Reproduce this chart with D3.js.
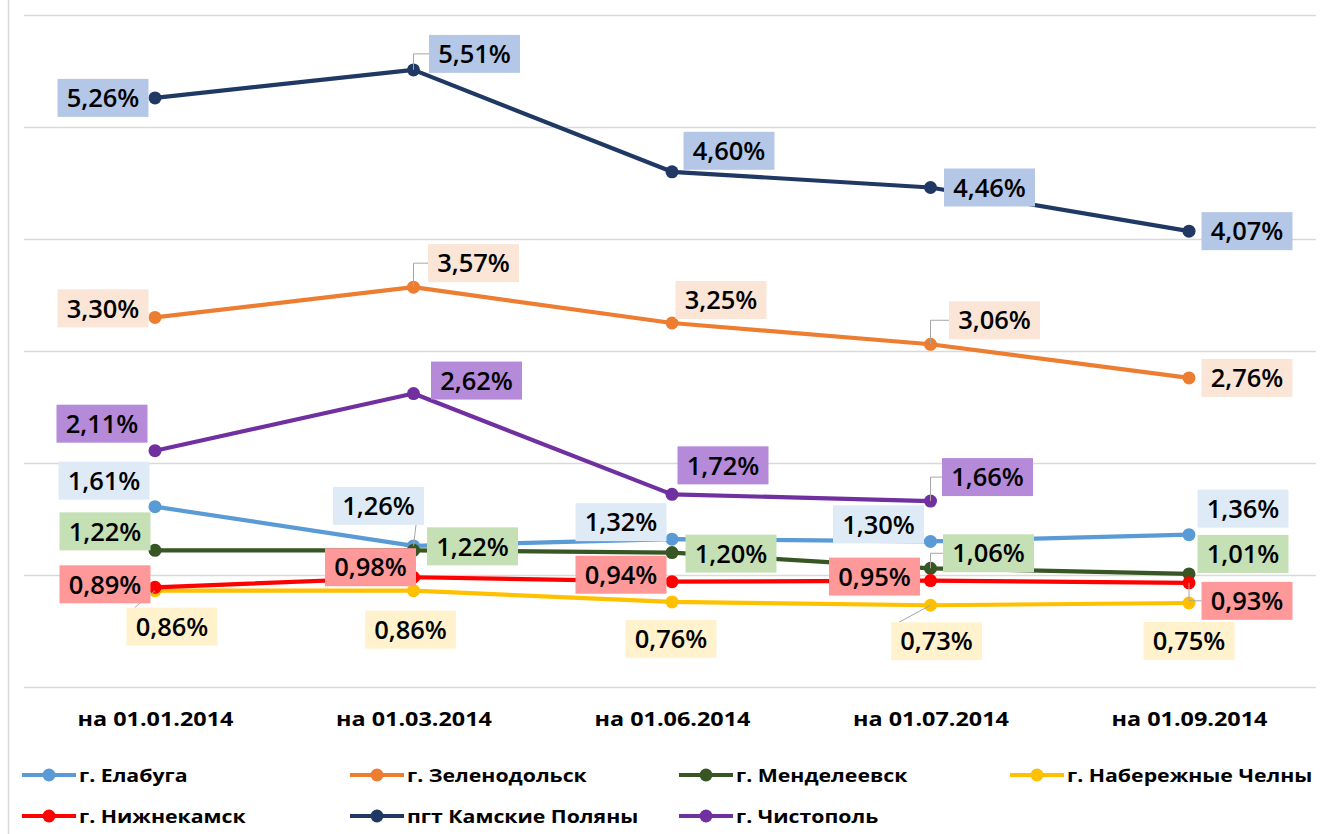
<!DOCTYPE html>
<html>
<head>
<meta charset="utf-8">
<script src="https://cdn.jsdelivr.net/npm/d3@7"></script>
<style>
  body { margin: 0; background: #fff; }
  svg { display: block; font-family: "Open Sans", Lato, sans-serif; }
</style>
</head>
<body>
<script>
const dates = ["на 01.01.2014", "на 01.03.2014", "на 01.06.2014", "на 01.07.2014", "на 01.09.2014"];

const elabuga = [1.61, 1.26, 1.32, 1.30, 1.36];
const zelenodolsk = [3.30, 3.57, 3.25, 3.06, 2.76];
const mendeleevsk = [1.22, 1.22, 1.20, 1.06, 1.01];
const chelny = [0.86, 0.86, 0.76, 0.73, 0.75];
const nizhnekamsk = [0.89, 0.98, 0.94, 0.95, 0.93];
const kamskiePolyany = [5.26, 5.51, 4.60, 4.46, 4.07];
const chistopol = [2.11, 2.62, 1.72, 1.66, null];

const seriesNames = ["г. Елабуга", "г. Зеленодольск", "г. Менделеевск", "г. Набережные Челны",
  "г. Нижнекамск", "пгт Камские Поляны", "г. Чистополь"];
const seriesValues = [elabuga, zelenodolsk, mendeleevsk, chelny, nizhnekamsk, kamskiePolyany, chistopol];

const lineColors = ["#5b9bd5", "#ed7d31", "#375623", "#ffc000", "#ff0000", "#203864", "#7030a0"];
const boxColors = ["#deebf7", "#fbe5d6", "#c5e0b4", "#fff2cc", "#ff9999", "#b4c7e7", "#b48ad9"];

// label placement: offset of label centre from the point, and leader style
const labelOffsets = [
  [[-51, -26, ""], [-35, -40, "diag"], [-51, -17, ""], [-52, -17, ""], [54, -26, ""]],
  [[-52, -9, ""], [60, -24, "elbow"], [49, -23, ""], [64, -24, "elbow"], [58, 0, ""]],
  [[-50, -19, ""], [59, -4, ""], [59, 1, ""], [58, -15, "elbow"], [54, -20, ""]],
  [[17, 36, "diag"], [-3, 39, ""], [-1, 37, ""], [6, 36, "diag"], [0, 38, ""]],
  [[-50, -3, ""], [-43, -10, ""], [-51, -7, ""], [-56, -4, ""], [58, 18, "elbow"]],
  [[-52, 0, ""], [61, -16, "elbow"], [57, -21, ""], [59, 0, ""], [58, 0, ""]],
  [[-53, -27, ""], [63, -13, ""], [51, -29, ""], [57, -24, "elbow"], [0, 0, ""]]
];

const width = 1322, height = 834;
const svg = d3.select("body").append("svg")
  .attr("width", width).attr("height", height);

// chart frame
svg.append("line").attr("x1", 8.5).attr("x2", 8.5).attr("y1", 0).attr("y2", height)
  .attr("stroke", "#d9d9d9").attr("stroke-width", 1.5);

const x = d3.scalePoint().domain(dates).range([155, 1189]);
const y = d3.scaleLinear().domain([0, 6]).range([687, 15]);

// gridlines
svg.append("g")
  .selectAll("line")
  .data(d3.range(0, 7))
  .join("line")
  .attr("x1", 24).attr("x2", 1316)
  .attr("y1", d => Math.round(y(d)) + 0.5).attr("y2", d => Math.round(y(d)) + 0.5)
  .attr("stroke", "#d9d9d9").attr("stroke-width", 1.3);

// category axis (source text is set wide, so stretch it a little)
const xAxis = svg.append("g")
  .attr("transform", "translate(0,687)")
  .call(d3.axisBottom(x).tickSize(0).tickPadding(25));
xAxis.select(".domain").remove();
xAxis.selectAll("text")
  .attr("font-family", "'Open Sans', sans-serif")
  .attr("font-size", 19.5).attr("font-weight", "bold").attr("fill", "#000")
  .attr("transform", "scale(1.2,1)");

const series = seriesNames.map((name, i) => ({
  name, i,
  points: seriesValues[i].map((v, j) => ({v, j, date: dates[j]})).filter(p => p.v !== null)
}));

const line = d3.line().x(p => x(p.date)).y(p => y(p.v));

const lineG = svg.append("g");
series.forEach(s => {
  lineG.append("path")
    .attr("d", line(s.points))
    .attr("fill", "none")
    .attr("stroke", lineColors[s.i])
    .attr("stroke-width", 4.2)
    .attr("stroke-linejoin", "round");
  lineG.selectAll(null)
    .data(s.points)
    .join("circle")
    .attr("cx", p => x(p.date))
    .attr("cy", p => y(p.v))
    .attr("r", 6.5)
    .attr("fill", lineColors[s.i]);
});

// data labels
const fmt = v => d3.format(".2f")(v).replace(".", ",") + "%";
const labelG = svg.append("g");
series.forEach(s => {
  s.points.forEach(p => {
    const [dx, dy, leader] = labelOffsets[s.i][p.j];
    const px = x(p.date), py = y(p.v);
    const cx = px + dx, cy = py + dy;
    const bw = 91, bh = 38;
    if (leader) {
      let pts;
      if (leader === "elbow") pts = [[px, py], [px, cy], [cx - bw / 2, cy]];
      else {
        const ex = cx + (dx > 0 ? -bw / 2 + 8 : bw / 2 - 8);
        const ey = cy + (dy > 0 ? -bh / 2 : bh / 2);
        pts = [[px, py], [ex, ey]];
      }
      labelG.append("path")
        .attr("d", d3.line()(pts))
        .attr("fill", "none")
        .attr("stroke", "#a6a6a6")
        .attr("stroke-width", 1);
    }
    labelG.append("rect")
      .attr("x", cx - bw / 2).attr("y", cy - bh / 2)
      .attr("width", bw).attr("height", bh)
      .attr("fill", boxColors[s.i]);
    labelG.append("text")
      .attr("x", cx).attr("y", cy)
      .attr("dy", "0.36em")
      .attr("text-anchor", "middle")
      .attr("font-size", 25.5).attr("font-weight", 600)
      .attr("fill", "#000")
      .text(fmt(p.v));
  });
});

// legend
const legendX = [22, 350, 679, 1010];
const legendY = [775, 816];
const legend = svg.append("g");
series.forEach(s => {
  const lx = legendX[s.i % 4], ly = legendY[Math.floor(s.i / 4)];
  const g = legend.append("g").attr("transform", `translate(${lx},${ly})`);
  g.append("line").attr("x1", 0).attr("x2", 54).attr("y1", 0).attr("y2", 0)
    .attr("stroke", lineColors[s.i]).attr("stroke-width", 4.2);
  g.append("circle").attr("cx", 27).attr("cy", 0).attr("r", 6.5).attr("fill", lineColors[s.i]);
  g.append("g").attr("transform", "translate(57,0)")
    .append("text").attr("dy", "0.36em")
    .attr("font-size", 18.5).attr("font-weight", "bold").attr("fill", "#000")
    .attr("transform", "scale(1.15,1)")
    .text(s.name);
});
</script>
</body>
</html>
